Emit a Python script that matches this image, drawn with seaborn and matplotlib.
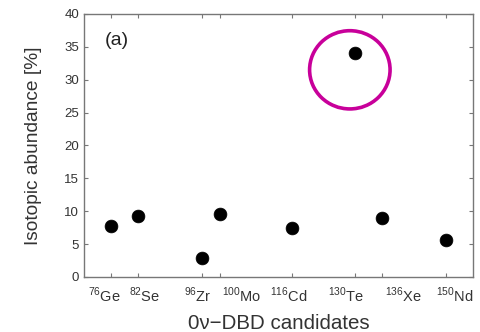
import matplotlib
matplotlib.use("Agg")
import matplotlib.pyplot as plt
from matplotlib.patches import Ellipse
import seaborn as sns
import pandas as pd

isotopes = ["Ge", "Se", "Zr", "Mo", "Cd", "Te", "Xe", "Nd"]
mass_numbers = [76, 82, 96, 100, 116, 130, 136, 150]
abundance = [7.8, 9.2, 2.8, 9.6, 7.5, 34.1, 8.9, 5.6]
tick_labels = [f"$^{{{m}}}$" + el for m, el in zip(mass_numbers, isotopes)]

df = pd.DataFrame({"A": mass_numbers, "abund": abundance})

sns.set_style("ticks")
plt.rcParams["font.family"] = ["Liberation Sans", "DejaVu Sans"]
plt.rcParams["mathtext.fontset"] = "custom"
plt.rcParams["mathtext.rm"] = "Liberation Sans"

fig = plt.figure(figsize=(4.8, 3.32), dpi=100)
ax = fig.add_axes([0.175, 0.166, 0.81, 0.792])

sns.scatterplot(data=df, x="A", y="abund", ax=ax, color="black", s=85,
                edgecolor="black", linewidth=0.5, zorder=3, legend=False)

ax.set_xlim(70, 156)
ax.set_ylim(0, 40)
ax.set_yticks(range(0, 41, 5))
ax.set_xticks(mass_numbers)
ax.set_xticklabels([])

# tick labels drawn at each tick, nudged horizontally (pixels) as in the original
label_shift_px = [-6.5, 6, -4, 22, -3, -9, 21, 9]
for m, lbl, dx in zip(mass_numbers, tick_labels, label_shift_px):
    ax.annotate(lbl, xy=(m, 0), xycoords=ax.get_xaxis_transform(),
                xytext=(dx * 0.72, -18), textcoords="offset points",
                ha="center", va="baseline", fontsize=10.5, color="#333333",
                annotation_clip=False)

for s in ax.spines.values():
    s.set_color("#777777")
    s.set_linewidth(1.0)
    s.set_visible(True)

ax.tick_params(direction="in", length=3, width=0.8, color="#777777",
               top=True, right=True, labelcolor="#333333")
ax.tick_params(axis="y", labelsize=9.5)

ax.set_xlabel("0ν−DBD candidates", fontsize=14.8, color="#333333", va="baseline")
ax.xaxis.set_label_coords(0.5, -0.2)
ax.set_ylabel("Isotopic abundance [%]", fontsize=13.8, color="#333333", va="center")
ax.yaxis.set_label_coords(-0.13, 0.5)

ax.text(74.5, 35.9, "(a)", fontsize=14, color="#222222", va="center", ha="left")

ax.add_patch(Ellipse((128.8, 31.5), width=17.8, height=11.9, fill=False,
                     edgecolor="#C8009A", linewidth=2.6, zorder=4))

fig.savefig("out.png", dpi=100)
